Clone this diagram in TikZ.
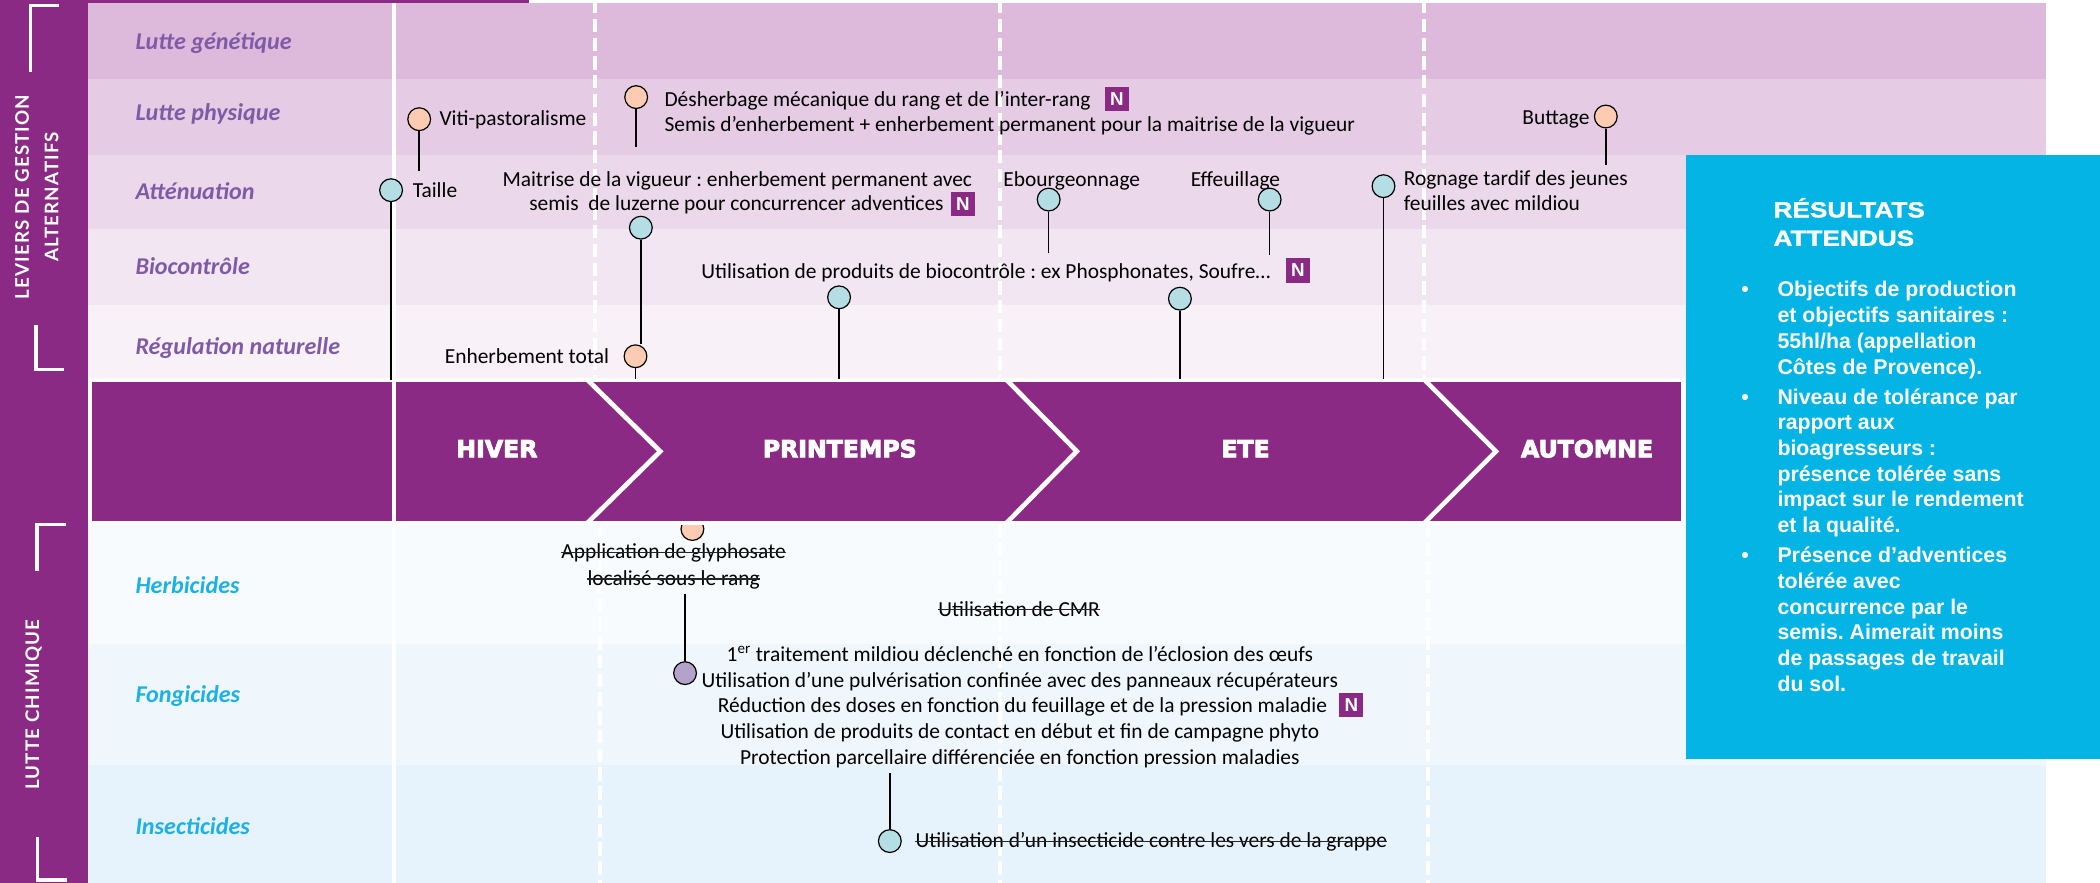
\documentclass[tikz,border=0pt]{standalone}
\usepackage{fontspec}
\setmainfont{Carlito}
\newfontfamily\arialf{Liberation Sans}
\newfontfamily\arialhead{Liberation Sans}[BoldFont={Liberation Sans Bold},BoldFeatures={FakeStretch=1.2,FakeBold=1.5}]
\newfontfamily\seasfam{DejaVu Sans}[BoldFont={DejaVu Sans Bold},BoldFeatures={FakeBold=4}]
\newfontfamily\latof{Lato}[LetterSpace=6]
\usetikzlibrary{calc}
\frenchspacing
\newcommand{\bodyf}{\fontsize{16pt}{19.3pt}\selectfont}
\newcommand{\rowf}{\fontsize{18pt}{21pt}\selectfont\bfseries\itshape}
\newcommand{\badgef}{\arialf\bfseries\fontsize{14pt}{14pt}\selectfont}
\newcommand{\seasf}{\seasfam\bfseries\fontsize{17.6pt}{20pt}\selectfont}
\newcommand{\sidef}{\latof\bfseries\fontsize{14pt}{22pt}\selectfont}
\newcommand{\resheadf}{\arialhead\bfseries\fontsize{16.3pt}{21.2pt}\selectfont}
\newcommand{\resf}{\arialf\bfseries\fontsize{15.9pt}{19.2pt}\selectfont}
\newcommand{\strikenode}[1]{\draw[strikeln] ($(#1.base west)+(0,4.8)$) -- ($(#1.base east)+(0,4.8)$);}
\definecolor{vio}{HTML}{8B2A85}
\definecolor{rA}{HTML}{DDB9DB}
\definecolor{rB}{HTML}{E5CBE4}
\definecolor{rC}{HTML}{ECD8EB}
\definecolor{rD}{HTML}{F2E6F2}
\definecolor{rE}{HTML}{F8F1F8}
\definecolor{hA}{HTML}{F7FBFE}
\definecolor{hB}{HTML}{EFF7FD}
\definecolor{hC}{HTML}{E7F3FC}
\definecolor{rowvio}{HTML}{7F5AA6}
\definecolor{chemblue}{HTML}{1BB1E6}
\definecolor{peach}{HTML}{FCCBB2}
\definecolor{lblue}{HTML}{B5DEE4}
\definecolor{lilac}{HTML}{B3A3CA}
\definecolor{cyanbox}{HTML}{04B4E4}
\begin{document}
\begin{tikzpicture}[x=1pt,y=1pt,
  txt/.style={inner sep=0pt,font=\bodyf,text height=10.3pt,text depth=0pt},
  rowlbl/.style={inner sep=0pt,anchor=west,font=\rowf,text=rowvio,text height=11.6pt,text depth=0pt},
  chemlbl/.style={rowlbl,text=chemblue},
  dotp/.style={circle,draw=black,line width=0.9pt,minimum size=17pt,inner sep=0pt,fill=peach},
  dotb/.style={dotp,fill=lblue},
  dotl/.style={dotp,fill=lilac},
  stemln/.style={draw=black,line width=1.1pt},
  badge/.style={fill=vio,text=white,font=\badgef,minimum width=18pt,minimum height=18pt,inner sep=0pt},
  seas/.style={text=white,font=\seasf,inner sep=0pt},
  wsolid/.style={draw=white,line width=3pt},
  wdash/.style={draw=white,line width=3pt,dash pattern=on 10pt off 4pt},
  strikeln/.style={draw=black!85,line width=0.9pt},
  bracket/.style={draw=white,line width=2.5pt},
  sidet/.style={text=white,font=\sidef,rotate=90,inner sep=0pt,align=center},
  res/.style={text=white,inner sep=0pt,anchor=base west,align=left}
]
\useasboundingbox (0,0) rectangle (1568,-659);
\fill[white] (0,0) rectangle (1568,-659);
% sidebar
\fill[vio] (0,0) rectangle (66,-659);
\fill[vio] (66,0) rectangle (395,-2.5);
% rows
\fill[rA] (66,-2.5) rectangle (1528,-59);
\fill[rB] (66,-59) rectangle (1528,-116);
\fill[rC] (66,-116) rectangle (1528,-171);
\fill[rD] (66,-171) rectangle (1528,-228);
\fill[rE] (66,-228) rectangle (1528,-282);
\fill[hA] (66,-390) rectangle (1528,-481);
\fill[hB] (66,-481) rectangle (1528,-571);
\fill[hC] (66,-571) rectangle (1528,-659);
% marker hidden under band
\node[dotp] (mGly) at (517,-395) {};
% season band
\draw[fill=vio,draw=white,line width=3pt] (67.5,-283.5) rectangle (1256.5,-390.5);
\draw[wsolid,line width=3.5pt] (438,-283)--(493,-337)--(438,-391);
\draw[wsolid,line width=3.5pt] (751,-283)--(804,-337)--(751,-391);
\draw[wsolid,line width=3.5pt] (1063,-283)--(1117,-337)--(1063,-391);
\node[seas] (sHiver) at (371,-335) {HIVER};
\node[seas] (sPrin) at (627,-335) {PRINTEMPS};
\node[seas] (sEte) at (930,-335) {ETE};
\node[seas] (sAut) at (1185,-335) {AUTOMNE};
% white separators (behind texts)
\draw[wdash] (444,0) -- (444,-283);
\draw[wdash] (448,-391) -- (448,-659);
\draw[wdash] (747,0) -- (747,-283);
\draw[wdash] (747,-391) -- (747,-659);
\draw[wdash] (1063.5,0) -- (1063.5,-283);
\draw[wdash] (1066,-391) -- (1066,-659);
\draw[wsolid] (294.5,-2.5) -- (294.5,-659);
% results box
\fill[cyanbox] (1259,-116) rectangle (1568,-567);
\node[res,font=\resheadf] (resH) at (1324,-183.5) {RÉSULTATS\\ATTENDUS};
\node[res,font=\resf] (resA) at (1327,-279.3) {Objectifs de production\\et objectifs sanitaires :\\55hl/ha (appellation\\Côtes de Provence).};
\node[res,font=\resf] (resB) at (1327,-397.7) {Niveau de tolérance par\\rapport aux\\bioagresseurs :\\présence tolérée sans\\impact sur le rendement\\et la qualité.};
\node[res,font=\resf] (resC) at (1327,-516.2) {Présence d’adventices\\tolérée avec\\concurrence par le\\semis. Aimerait moins\\de passages de travail\\du sol.};
\node[res,font=\resf,anchor=base] (dA) at (1303,-221.7) {•};
\node[res,font=\resf,anchor=base] (dB) at (1303,-301.7) {•};
\node[res,font=\resf,anchor=base] (dC) at (1303,-420.2) {•};
% sidebar texts and brackets
\node[sidet] (sLev) at (27.5,-147) {LEVIERS DE GESTION\\ALTERNATIFS};
\node[sidet] (sChim) at (25,-526) {LUTTE CHIMIQUE};
\draw[bracket] (44,-4) -- (23,-4) -- (23,-54);
\draw[bracket] (27,-243) -- (27,-276) -- (48,-276);
\draw[bracket] (49,-391.4) -- (27.7,-391.4) -- (27.7,-426);
\draw[bracket] (28,-625) -- (28,-657) -- (50,-657);
% row labels
\node[rowlbl] (lGen) at (101,-31) {Lutte génétique};
\node[rowlbl] (lPhy) at (101,-84.5) {Lutte physique};
\node[rowlbl] (lAtt) at (101,-143) {Atténuation};
\node[rowlbl] (lBio) at (101,-199) {Biocontrôle};
\node[rowlbl] (lReg) at (101,-259) {Régulation naturelle};
\node[chemlbl] (lHer) at (101,-437) {Herbicides};
\node[chemlbl] (lFon) at (101,-519) {Fongicides};
\node[chemlbl] (lIns) at (101,-617) {Insecticides};
% texts
\node[txt,anchor=west] (tViti) at (328,-88.6) {Viti-pastoralisme};
\node[txt,anchor=west] (tTaille) at (308,-142.5) {Taille};
\node[txt,anchor=west] (tDesh1) at (496,-74) {Désherbage mécanique du rang et de l’inter-rang};
\node[badge] (nDesh) at (834,-74) {N};
\node[txt,anchor=west] (tDesh2) at (496,-92.7) {Semis d’enherbement + enherbement permanent pour la maitrise de la vigueur};
\node[txt,anchor=west] (tMait1) at (375,-134) {Maitrise de la vigueur : enherbement permanent avec};
\node[txt,anchor=west] (tMait2) at (395,-152) {semis\ \ de luzerne pour concurrencer adventices};
\node[badge] (nMait) at (719,-152) {N};
\node[txt,anchor=east] (tEnh) at (455,-266) {Enherbement total};
\node[txt,anchor=west] (tBio) at (523.5,-203) {Utilisation de produits de biocontrôle : ex Phosphonates, Soufre…};
\node[badge] (nBio) at (969,-202) {N};
\node[txt,anchor=west] (tEbou) at (749,-134) {Ebourgeonnage};
\node[txt,anchor=west] (tEffe) at (889,-134) {Effeuillage};
\node[txt,anchor=west] (tRogn1) at (1048,-133) {Rognage tardif des jeunes};
\node[txt,anchor=west] (tRogn2) at (1048,-152) {feuilles avec mildiou};
\node[txt,anchor=east] (tButt) at (1187,-88) {Buttage};
\node[txt] (tGly1) at (503,-412) {Application de glyphosate};
\node[txt] (tGly2) at (503,-432) {localisé sous le rang};
\node[txt] (tCmr) at (761,-455) {Utilisation de CMR};
\node[txt] (tFa) at (761.5,-489) {1\textsuperscript{er} traitement mildiou déclenché en fonction de l’éclosion des œufs};
\node[txt] (tFb) at (761.5,-508) {Utilisation d’une pulvérisation confinée avec des panneaux récupérateurs};
\node[txt] (tFc) at (763.5,-526.5) {Réduction des doses en fonction du feuillage et de la pression maladie};
\node[badge] (nFc) at (1009,-526.5) {N};
\node[txt] (tFd) at (761.5,-546) {Utilisation de produits de contact en début et fin de campagne phyto};
\node[txt] (tFe) at (761.5,-565.5) {Protection parcellaire différenciée en fonction pression maladies};
\node[txt,anchor=west] (tIns) at (683.4,-628) {Utilisation d’un insecticide contre les vers de la grappe};
\strikenode{tGly1}
\strikenode{tGly2}
\strikenode{tCmr}
\strikenode{tIns}
% markers
\node[dotp] (mViti) at (313,-89) {};
\node[dotb] (mTaille) at (292,-142) {};
\node[dotp] (mDesh) at (475,-72.5) {};
\node[dotb] (mMait) at (478.5,-170) {};
\node[dotp] (mEnh) at (474.5,-266) {};
\node[dotb] (mBioA) at (626.5,-222) {};
\node[dotb] (mBioB) at (881,-223) {};
\node[dotb] (mEbou) at (783,-149) {};
\node[dotb] (mEffe) at (948,-149) {};
\node[dotb] (mRogn) at (1033,-139) {};
\node[dotp] (mButt) at (1199,-87) {};
\node[dotl] (mFong) at (511.5,-502.6) {};
\node[dotb] (mIns) at (664.4,-628) {};
\coordinate (cViti) at (313,-127.5);
\coordinate (cTaille) at (292,-284);
\coordinate (cDesh) at (475,-109.5);
\coordinate (cEnh) at (474.5,-283);
\coordinate (cBioA) at (626.5,-283);
\coordinate (cBioB) at (881,-283);
\coordinate (cEbou) at (783,-189);
\coordinate (cEffe) at (948,-190.5);
\coordinate (cRogn) at (1033,-283);
\coordinate (cButt) at (1199,-123);
\coordinate (cGly) at (511.5,-443.5);
\coordinate (cIns) at (664.4,-577.5);
\draw[stemln] (mViti.south) -- (cViti);
\draw[stemln] (mTaille.south) -- (cTaille);
\draw[stemln] (mDesh.south) -- (cDesh);
\draw[stemln] (mMait.south) -- (mMait.south |- mEnh.north);
\draw[stemln] (mEnh.south) -- (cEnh);
\draw[stemln] (mBioA.south) -- (cBioA);
\draw[stemln] (mBioB.south) -- (cBioB);
\draw[stemln] (mEbou.south) -- (cEbou);
\draw[stemln] (mEffe.south) -- (cEffe);
\draw[stemln] (mRogn.south) -- (cRogn);
\draw[stemln] (mButt.south) -- (cButt);
\draw[stemln] (cGly) -- (mFong.north);
\draw[stemln] (cIns) -- (mIns.north);
\end{tikzpicture}
\end{document}
